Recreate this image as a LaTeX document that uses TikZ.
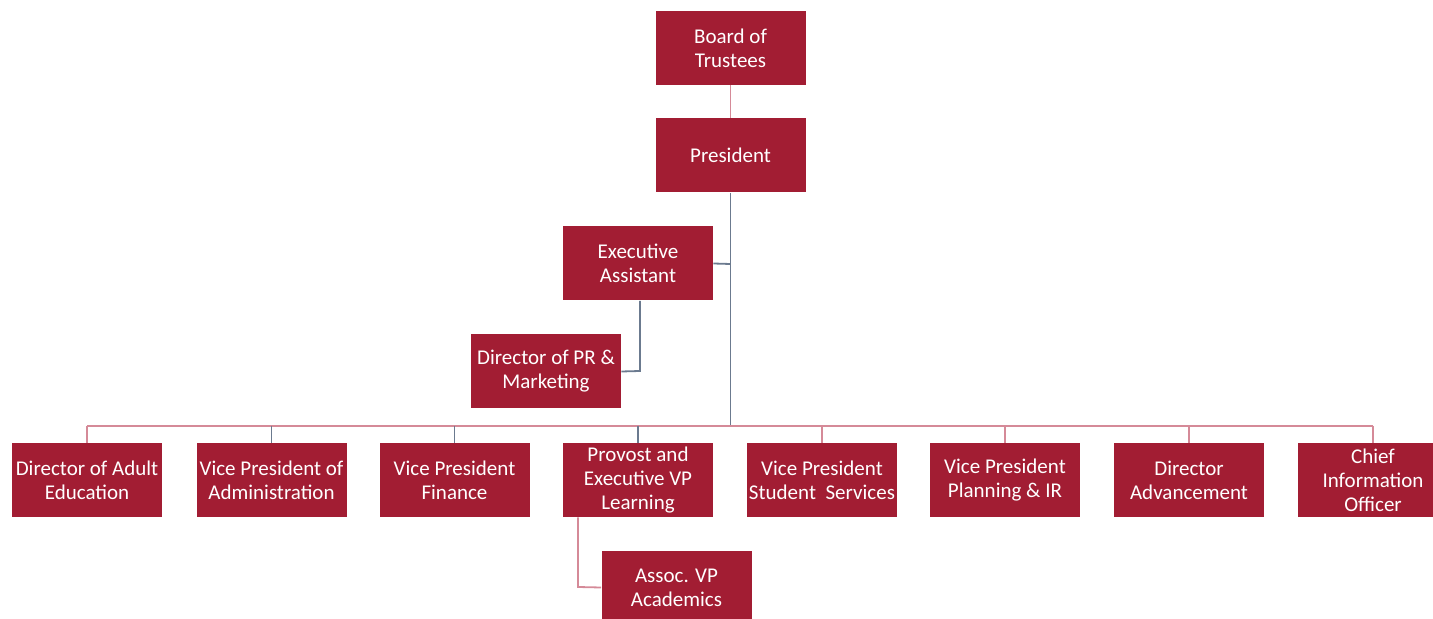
\documentclass[tikz,border=0pt]{standalone}
\usepackage{fontspec}
\setmainfont{Carlito}
\definecolor{boxred}{HTML}{A21D33}
\definecolor{lnpink}{HTML}{D58A98}
\definecolor{lngrey}{HTML}{6B7A8F}
\begin{document}
\begin{tikzpicture}[x=0.5pt,y=-0.5pt,
  orgbox/.style={fill=boxred,draw=none,minimum width=75pt,minimum height=37pt,inner sep=0pt,
    text=white,align=center,font=\fontsize{10.5}{12}\selectfont},
  pinkln/.style={draw=lnpink,line width=0.9pt},
  greyln/.style={draw=lngrey,line width=0.9pt}]
\useasboundingbox (0,0) rectangle (1433,619);
\clip (0,0) rectangle (1433,619);
% connector points
\coordinate (busl) at (87,426);
\coordinate (busr) at (1373,426);
\coordinate (busm) at (730.5,426);
\coordinate (eaj) at (730.5,264);
\coordinate (prj) at (640,371);
\coordinate (asj) at (578,587);
% nodes
\node[orgbox] (board) at (730.5,48) {Board of\\Trustees};
\node[orgbox] (pres) at (730.5,155.5) {President};
\node[orgbox] (ea) at (638,263.5) {Executive\\Assistant};
\node[orgbox] (pr) at (546,371.5) {Director of PR \&\\Marketing};
\node[orgbox] (b1) at (87,480) {Director of Adult\\Education};
\node[orgbox] (b2) at (271.5,480) {Vice President of\\Administration};
\node[orgbox] (b3) at (454.5,480) {Vice President\\Finance};
\node[orgbox] (b4) at (638,480) {Provost and\\Executive VP\\Learning};
\node[orgbox] (b5) at (822,480) {Vice President\\Student\ \ Services};
\node[orgbox] (b6) at (1005,480) {Vice President\\Planning \& IR};
\node[orgbox] (b7) at (1189,480) {Director\\Advancement};
\node[orgbox] (b8) at (1373,480) {Chief\\Information\\Officer};
\node[orgbox] (assoc) at (676.5,587.5) {Assoc. VP\\Academics};
% lines
\draw[pinkln] (board) -- (pres);
\draw[greyln] (pres.south) -- (eaj);
\draw[greyln] (eaj) -- (busm);
\draw[greyln] (ea.east) -- (eaj);
\draw[greyln] (ea.south -| prj) -- (prj) -- (pr.east);
\draw[pinkln] (busl) -- (busr);
\draw[pinkln] (busl) -- (b1.north);
\draw[greyln] (b2.north |- busl) -- (b2.north);
\draw[greyln] (b3.north |- busl) -- (b3.north);
\draw[greyln] (b4.north |- busl) -- (b4.north);
\draw[pinkln] (b5.north |- busl) -- (b5.north);
\draw[pinkln] (b6.north |- busl) -- (b6.north);
\draw[pinkln] (b7.north |- busl) -- (b7.north);
\draw[pinkln] (busr) -- (b8.north);
\draw[pinkln] (b4.south -| asj) -- (asj) -- (assoc.west);
\end{tikzpicture}
\end{document}
